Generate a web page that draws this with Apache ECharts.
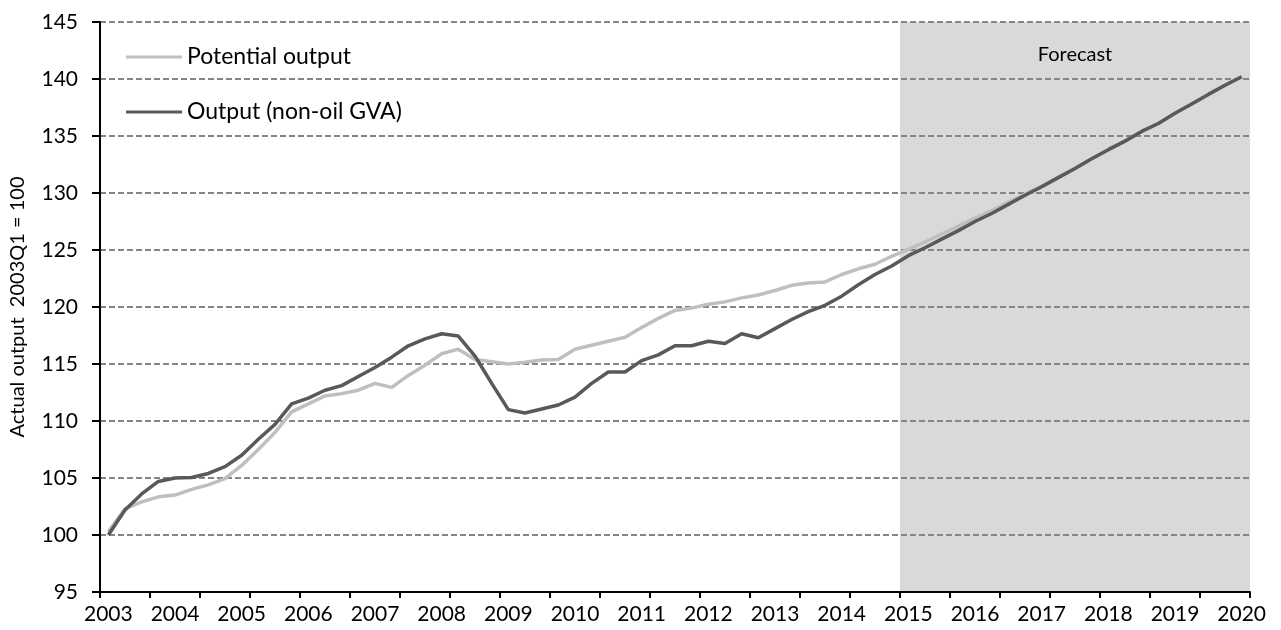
<!DOCTYPE html>
<html><head><meta charset="utf-8">
<script src="https://cdn.jsdelivr.net/npm/echarts@6/dist/echarts.min.js"></script>
<style>html,body{margin:0;padding:0;background:#fff}#c{width:1281px;height:630px}</style>
</head><body><div id="c"></div>
<script>
// ---- data ----
const years = [2003,2004,2005,2006,2007,2008,2009,2010,2011,2012,2013,2014,2015,2016,2017,2018,2019,2020];
const quarters = ['Q1','Q2','Q3','Q4'];
const categories = [];
years.forEach(y => quarters.forEach(q => { if (y < 2020 || q === 'Q1') categories.push(y + q); }));

const potentialOutput = [
  100.3,102.3,102.9,103.35, 103.5,104.0,104.4,104.95, 106.1,107.5,109.0,110.8,
  111.5,112.2,112.4,112.7, 113.3,112.95,114.0,114.9, 115.9,116.3,115.4,115.2,
  115.0,115.15,115.35,115.4, 116.3,116.65,117.0,117.35, 118.2,119.0,119.7,119.9,
  120.25,120.45,120.8,121.05, 121.45,121.9,122.1,122.2, 122.85,123.35,123.75,124.45,
  125.05,125.7,126.4,127.1, 127.8,128.45,129.2,129.9, 130.6,131.4,132.15,133.0,
  133.8,134.55,135.4,136.1, 137.0,137.8,138.65,139.45, 140.2
];
const outputNonOil = [
  100.0,102.2,103.6,104.7, 105.0,105.05,105.4,106.0, 107.0,108.4,109.7,111.5,
  112.0,112.7,113.1,113.9, 114.7,115.6,116.6,117.2, 117.65,117.45,115.7,113.3,
  111.0,110.7,111.05,111.4, 112.1,113.3,114.3,114.3, 115.3,115.8,116.6,116.6,
  117.0,116.8,117.65,117.3, 118.1,118.9,119.6,120.15, 120.95,121.95,122.85,123.6,
  124.5,125.2,125.95,126.7, 127.5,128.2,129.0,129.8, 130.55,131.35,132.15,133.0,
  133.8,134.55,135.4,136.1, 137.0,137.8,138.65,139.45, 140.2
];
const forecastStart = '2015Q1';
const forecastLabel = 'Forecast';
const yMin = 95, yMax = 145, yStep = 5;
const seriesNames = ['Potential output', 'Output (non-oil GVA)'];
const yAxisTitle = 'Actual output  2003Q1 = 100';

// ---- chart ----
const startIdx = categories.indexOf(forecastStart);
const nCat = categories.length;
const FONT = 'Lato';
const chart = echarts.init(document.getElementById('c'), null, {renderer: 'canvas'});
chart.setOption({
  animation: false,
  backgroundColor: '#ffffff',
  textStyle: {fontFamily: FONT},
  grid: {left: 97, right: 31, top: 22, bottom: 38, containLabel: false},
  legend: {
    data: seriesNames,
    orient: 'vertical',
    left: 121, top: 40,
    itemWidth: 56, itemHeight: 3, icon: 'rect',
    itemGap: 31,
    textStyle: {fontFamily: FONT, fontSize: 23, color: '#000', lineHeight: 24}
  },
  xAxis: [{
    type: 'category',
    data: categories,
    boundaryGap: true,
    axisLine: {lineStyle: {color: '#000', width: 2}},
    axisTick: {show: true, interval: 2, length: 6, lineStyle: {color: '#000', width: 2}},
    axisLabel: {
      interval: 3, margin: 12, color: '#000', fontFamily: FONT, fontSize: 21,
      formatter: v => v.slice(0, 4)
    },
    splitLine: {show: false}
  }, {
    // band-boundary scale (0 .. number of quarters) used for the forecast shading
    type: 'value', min: 0, max: nCat, show: false
  }],
  yAxis: {
    type: 'value', min: yMin, max: yMax, interval: yStep,
    name: yAxisTitle, nameLocation: 'middle', nameGap: 72, nameRotate: 90,
    nameTextStyle: {fontFamily: FONT, fontSize: 20, color: '#000'},
    axisLine: {show: true, lineStyle: {color: '#000', width: 2}},
    axisTick: {show: true, inside: false, length: 8, lineStyle: {color: '#000', width: 2}},
    axisLabel: {margin: 22, color: '#000', fontFamily: FONT, fontSize: 21},
    splitLine: {show: true, lineStyle: {color: '#858585', width: 2, type: [6, 3]}}
  },
  series: [
    {
      name: 'forecast-shade', type: 'line', xAxisIndex: 1,
      data: [[startIdx, yMax], [nCat, yMax]],
      symbol: 'none', lineStyle: {width: 0},
      areaStyle: {color: '#d9d9d9', opacity: 1, origin: 'start'},
      z: -1, silent: true
    },
    {
      name: seriesNames[0], type: 'line', data: potentialOutput, showSymbol: false, symbol: 'none',
      lineStyle: {color: '#bfbfbf', width: 3.5}, itemStyle: {color: '#bfbfbf'}, z: 3
    },
    {
      name: seriesNames[1], type: 'line', data: outputNonOil, showSymbol: false, symbol: 'none',
      lineStyle: {color: '#595959', width: 3.5}, itemStyle: {color: '#595959'}, z: 4
    }
  ]
});
const xa = chart.convertToPixel({xAxisIndex: 1}, startIdx);
const xb = chart.convertToPixel({xAxisIndex: 1}, nCat);
const yTop = chart.convertToPixel({yAxisIndex: 0}, yMax);
chart.setOption({
  graphic: [{
    type: 'text', x: (xa + xb) / 2, y: yTop + 33,
    style: {text: forecastLabel, fill: '#000', font: '20px ' + FONT, textAlign: 'center', textVerticalAlign: 'middle'}
  }]
});
</script></body></html>
